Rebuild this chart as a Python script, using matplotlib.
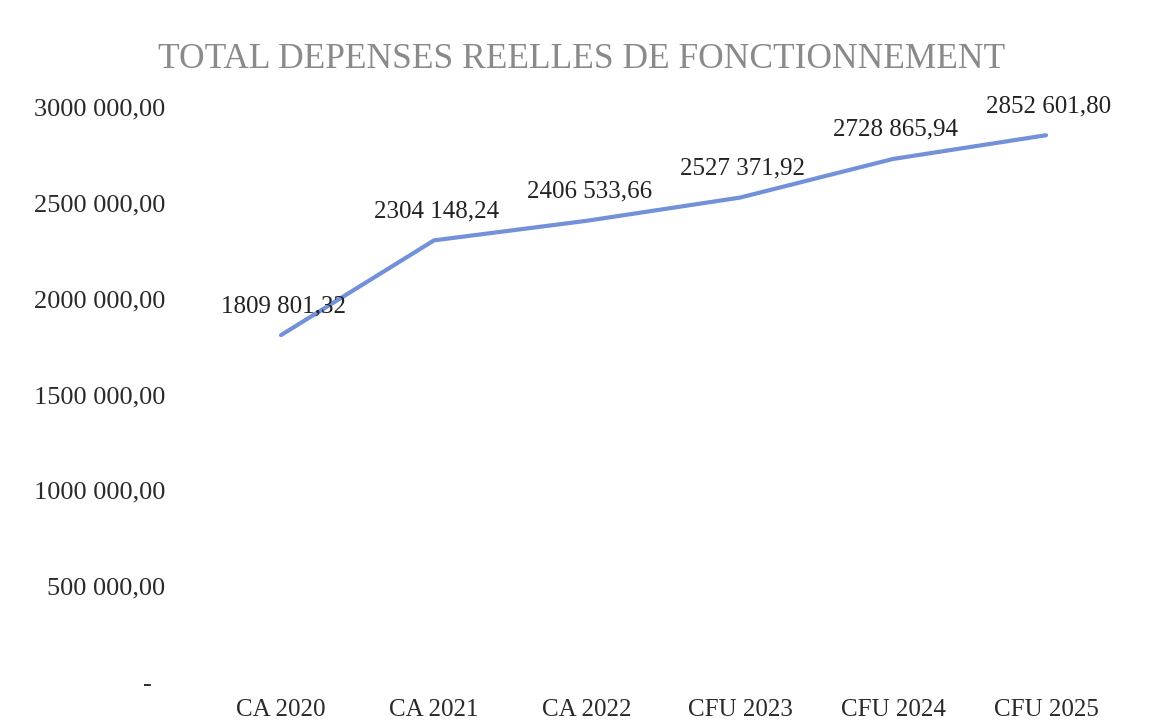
import matplotlib
matplotlib.use("Agg")
import matplotlib.pyplot as plt

categories = ["CA 2020", "CA 2021", "CA 2022", "CFU 2023", "CFU 2024", "CFU 2025"]
values = [1809801.32, 2304148.24, 2406533.66, 2527371.92, 2728865.94, 2852601.80]
y_ticks = [0, 500000, 1000000, 1500000, 2000000, 2500000, 3000000]
y_tick_labels = ["-  ", "500 000,00", "1000 000,00", "1500 000,00",
                 "2000 000,00", "2500 000,00", "3000 000,00"]
title = "TOTAL DEPENSES REELLES DE FONCTIONNEMENT"


def fr_fmt(v):
    c = int(round(v * 100))
    ip, cents = divmod(c, 100)
    th, rest = divmod(ip, 1000)
    return f"{th} {rest:03d},{cents:02d}"


plt.rcParams['font.family'] = ['Liberation Serif', 'DejaVu Serif']

fig = plt.figure(figsize=(11.52, 7.22), dpi=100)
ax = fig.add_axes([0.1775, 0.0554, 0.9744 - 0.1775, 0.8518 - 0.0554])

x = list(range(len(categories)))
ax.plot(x, values, color="#7291d9", lw=3.0, solid_capstyle="round",
        solid_joinstyle="round")

for xi, v in zip(x, values):
    ax.annotate(fr_fmt(v), (xi, v), xytext=(2, 21), textcoords="offset points",
                ha="center", va="center", fontsize=18, color="#222222")

ax.set_xlim(-0.5, len(categories) - 0.5)
ax.set_ylim(0, 3000000)
ax.set_xticks(x)
ax.set_xticklabels(categories, fontsize=18, color="#2a2a2a")
ax.set_yticks(y_ticks)
ax.set_yticklabels(y_tick_labels, fontsize=19, color="#2a2a2a")
ax.tick_params(axis="both", length=0)
ax.tick_params(axis="y", pad=28)
ax.tick_params(axis="x", pad=12)
for s in ax.spines.values():
    s.set_visible(False)

fig.text(582 / 1152, 1 - 59 / 722, title, ha="center", va="center",
         fontsize=25.5, color="#8a8a8a")

fig.savefig("out.png", dpi=100, facecolor="white")
